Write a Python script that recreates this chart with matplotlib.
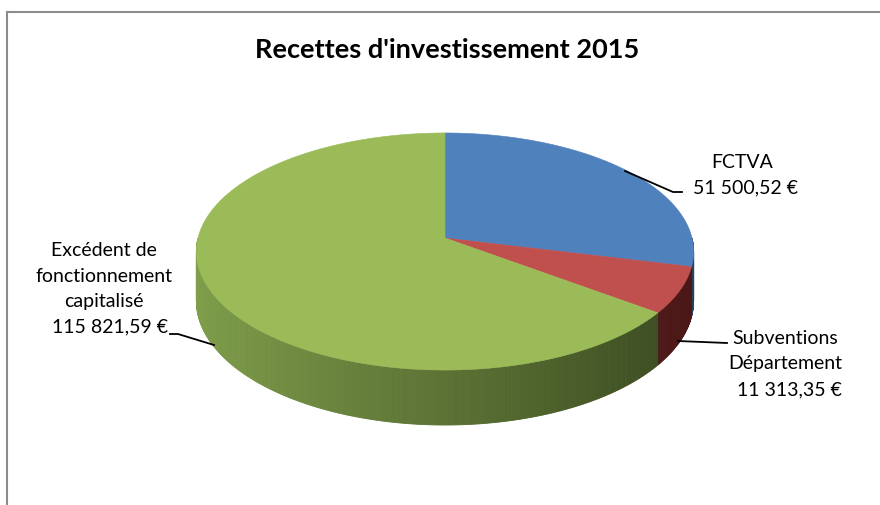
#!/usr/bin/env python3
"""
Recettes d'investissement 2015 - 3D style pie chart (perspective view).
"""
import numpy as np
import matplotlib.pyplot as plt
from matplotlib.patches import Polygon
from matplotlib.lines import Line2D
from matplotlib.colors import to_rgb

# Data
categories = ['FCTVA', 'Subventions\nDépartement', 'Excédent de\nfonctionnement\ncapitalisé']
values = [51500.52, 11313.35, 115821.59]
value_labels = ['51 500,52 €', '11 313,35 €', '115 821,59 €']

# Styles
top_colors = ['#4F81BD', '#C0504D', '#9BBB59']
side_light = ['#3D6494', '#6E2826', '#809F4B']
side_dark = ['#27405F', '#4A1717', '#36451D']

W, H = 880, 505
AX_X, AX_Y = 445, 238   # pie apex on screen (px)
A, B = 247, 117         # horizontal / vertical radius factors (px)
P = 0.114               # perspective strength
E = 48.7                # thickness factor (px)

plt.rcParams['font.family'] = ['Lato', 'DejaVu Sans']

fig = plt.figure(figsize=(W / 100, H / 100), dpi=100)
ax = fig.add_axes([0, 0, 1, 1])
ax.set_xlim(0, W)
ax.set_ylim(H, 0)
ax.axis('off')


def project(t_deg, h=0.0):
    """angle on the pie rim (deg), height (0 top, -1 bottom) -> screen px"""
    t = np.radians(t_deg)
    u, v = np.cos(t), np.sin(t)
    den = 1 + P * v
    return AX_X + A * u / den, AX_Y - (B * v + E * h) / den


def px(x, y):
    """pixel position (origin top-left) -> figure fraction"""
    return x / W, 1 - y / H


# slice angle ranges, clockwise from 12 o'clock
fracs = np.array(values) / np.sum(values)
spans = []
start = 90.0
for f in fracs:
    spans.append((start - 360 * f, start))
    start -= 360 * f

# Side walls (front half only), shaded left -> right
for i, (a, b) in enumerate(spans):
    c0, c1 = np.array(to_rgb(side_light[i])), np.array(to_rgb(side_dark[i]))
    for k in (-360, 0, 360):
        lo, hi = max(a, -180 + k), min(b, 0 + k)
        if hi <= lo:
            continue
        edges = np.linspace(lo, hi, max(int((hi - lo) * 2), 2) + 1)
        for t0, t1 in zip(edges[:-1], edges[1:]):
            x0, y0 = project(t0)
            x1, y1 = project(t1)
            x2, y2 = project(t1, -1)
            x3, y3 = project(t0, -1)
            t = (np.cos(np.radians((t0 + t1) / 2)) + 1) / 2
            col = c0 * (1 - t) + c1 * t
            ax.add_patch(Polygon([(x0, y0), (x1, y1), (x2, y2), (x3, y3)],
                                 closed=True, facecolor=col, edgecolor=col,
                                 linewidth=0.6, zorder=2))

# Top faces
for i, (a, b) in enumerate(spans):
    ts = np.linspace(a, b, max(int(b - a) * 2, 4))
    xs, ys = project(ts)
    pts = [(AX_X, AX_Y)] + list(zip(xs, ys))
    ax.add_patch(Polygon(pts, closed=True, facecolor=top_colors[i],
                         edgecolor=top_colors[i], linewidth=0.4, zorder=3))

# Frame
fig.add_artist(Line2D([px(7, 0)[0], px(7, 0)[0]], [px(0, 12)[1], 0],
                      transform=fig.transFigure, color='#8C8C8C', lw=1.5))
fig.add_artist(Line2D([px(7, 0)[0], 1], [px(0, 12)[1], px(0, 12)[1]],
                      transform=fig.transFigure, color='#8C8C8C', lw=1.5))

# Title
fig.text(*px(447, 50), "Recettes d'investissement 2015", ha='center', va='center',
         fontsize=19.5, fontweight='bold', color='black')

# Labels
fs = 14
fig.text(*px(742, 162), categories[0], ha='center', va='center', fontsize=fs)
fig.text(*px(745, 188), value_labels[0], ha='center', va='center', fontsize=fs)

fig.text(*px(785, 338), 'Subventions', ha='center', va='center', fontsize=fs)
fig.text(*px(785, 364), 'Département', ha='center', va='center', fontsize=fs)
fig.text(*px(789, 390), value_labels[1], ha='center', va='center', fontsize=fs)

for j, line in enumerate(['Excédent de', 'fonctionnement', 'capitalisé']):
    fig.text(*px(104, 251 + 25.5 * j), line, ha='center', va='center', fontsize=fs)
fig.text(*px(110, 327), value_labels[2], ha='center', va='center', fontsize=fs)

# Leader lines
leaders = [
    [(625, 171), (673, 192), (682, 192)],
    [(678, 341), (727, 343)],
    [(170, 334), (178, 334), (214, 345)],
]
for pts in leaders:
    xs, ys = zip(*[px(x, y) for x, y in pts])
    fig.add_artist(Line2D(xs, ys, transform=fig.transFigure, color='black', lw=1.3))

fig.savefig('out.png', dpi=100, facecolor='white')
